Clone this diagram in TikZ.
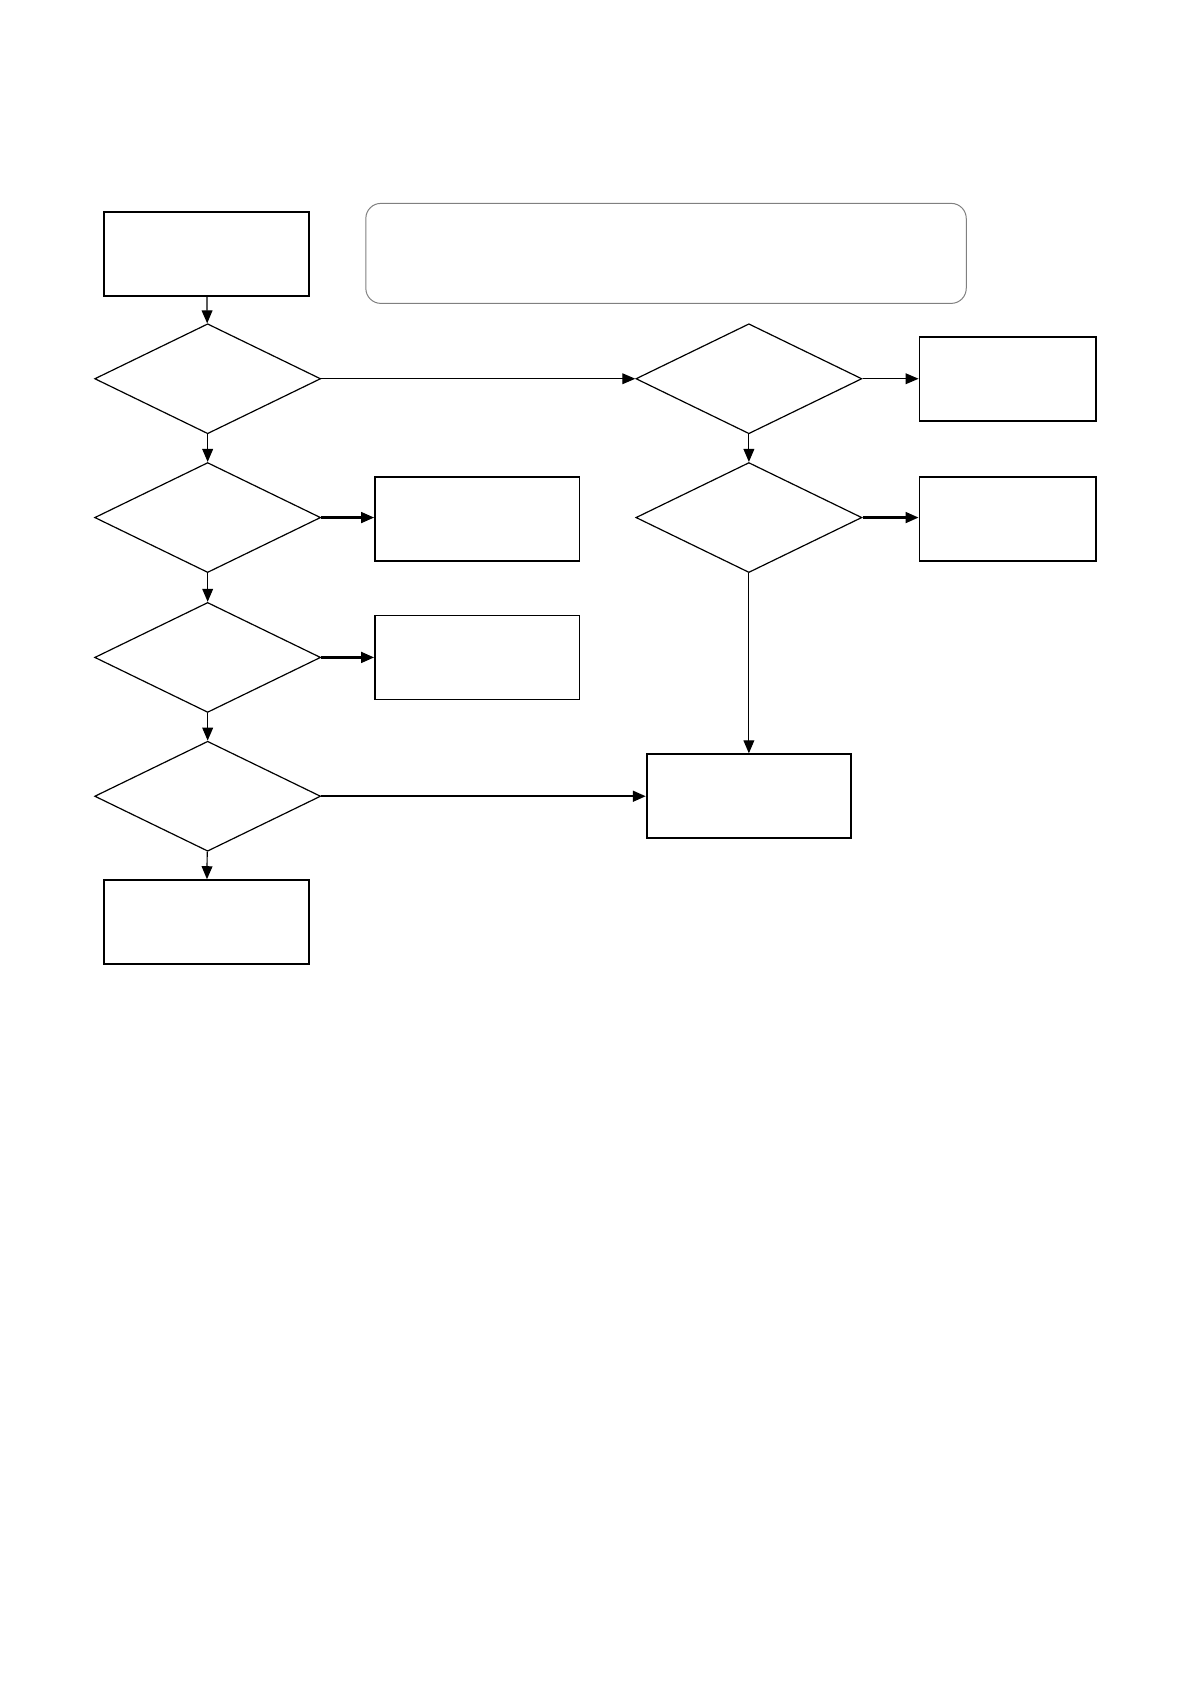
\documentclass[tikz,border=0pt]{standalone}
\usetikzlibrary{shapes.geometric,arrows.meta}
\begin{document}
\begin{tikzpicture}[x=0.538pt,y=-0.538pt,
    box/.style={draw, line width=0.9pt, minimum width=102.2pt, minimum height=42pt, inner sep=0pt},
    sidebox/.style={box, minimum width=88.2pt},
    test/.style={draw, diamond, line width=0.6pt, minimum width=113pt, minimum height=55pt, inner sep=0pt},
    flow/.style={-{Triangle[length=6.5pt,width=5.4pt]}, line width=0.6pt},
    thickflow/.style={flow, line width=1.1pt}]
  \useasboundingbox (0,0) rectangle (1107,1566);

  % left column
  \node[box] (start) at (192,236) {};
  \node[draw=gray, line width=0.5pt, rounded corners=7.5pt, minimum width=300.2pt, minimum height=50pt] (note) at (619,235.5) {};
  \node[test] (t1) at (193,352) {};
  \node[test] (t2) at (193,481) {};
  \node[test] (t3) at (193,611) {};
  \node[test] (t4) at (193,740) {};
  \node[box] (stop) at (192,857) {};

  % middle boxes
  \node[box] (act1) at (443.5,482) {};
  \node[box] (act2) at (443.5,611) {};
  \node[box] (act3) at (696,740) {};

  % right column
  \node[test] (t5) at (696,352) {};
  \node[test] (t6) at (696,481) {};
  \node[sidebox] (res1) at (936.5,352.5) {};
  \node[sidebox] (res2) at (936.5,482) {};

  \draw[flow] (start) -- (t1);
  \draw[flow] (t1) -- (t2);
  \draw[flow] (t2) -- (t3);
  \draw[flow] (t3) -- (t4);
  \draw[flow] (t4) -- (stop);
  \draw[flow] (t1) -- (t5);
  \draw[flow] (t5) -- (t5 -| res1.west);
  \draw[flow] (t5) -- (t6);
  \draw[thickflow] (t6) -- (t6 -| res2.west);
  \draw[flow] (t6) -- (act3);
  \draw[thickflow] (t2) -- (t2 -| act1.west);
  \draw[thickflow] (t3) -- (act2);
  \draw[thickflow] (t4) -- (act3);
\end{tikzpicture}
\end{document}
